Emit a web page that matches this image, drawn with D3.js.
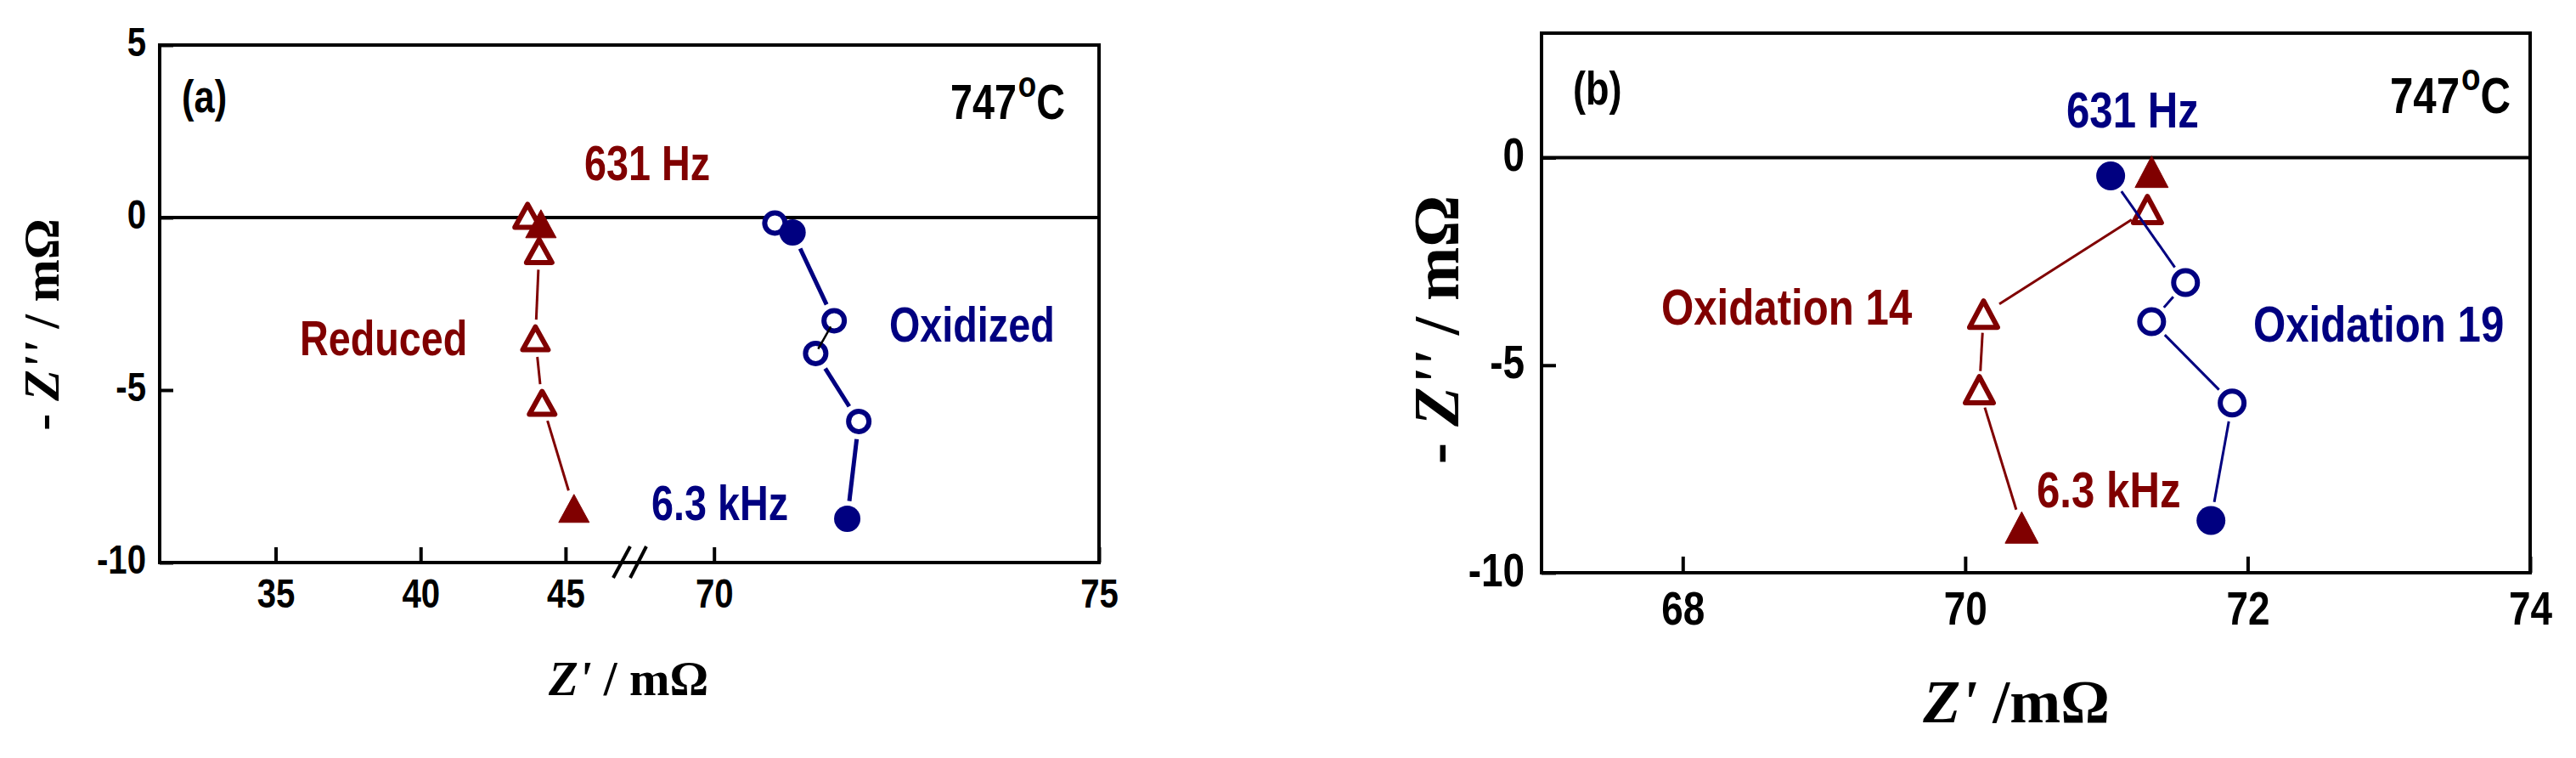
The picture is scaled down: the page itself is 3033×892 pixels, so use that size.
<!DOCTYPE html>
<html><head><meta charset="utf-8">
<script src="https://cdn.jsdelivr.net/npm/d3@7"></script>
<style>
html,body{margin:0;padding:0;background:#fff;}
svg{display:block;}
.lbl{font-family:"Liberation Sans Narrow","Arial Narrow","Liberation Sans",Arial,sans-serif;font-weight:bold;}
.ser{font-family:"Liberation Serif","Times New Roman",serif;font-weight:bold;}
</style></head><body>
<svg id="chart" width="3033" height="892"></svg>
<script>
// ---------- data (Z' in mOhm, -Z'' in mOhm) ----------
// Panel (a)
const aReducedRe  = [43.69, 44.15, 44.09, 43.96, 44.19, 45.29];
const aReducedIm  = [0.05, -0.18, -0.97, -3.50, -5.37, -8.43];
const aReducedEnd = [false, true, false, false, false, true];
const aOxidRe     = [70.79, 71.02, 71.56, 71.32, 71.88, 71.73];
const aOxidIm     = [-0.16, -0.43, -2.99, -3.94, -5.91, -8.73];
const aOxidEnd    = [false, true, false, false, false, true];
const aXDomain    = [31, 47.2, 68.9, 75];      // broken axis
const aXTicks     = [35, 40, 45, 70, 75];
const aYDomain    = [-10, 5];
const aYTicks     = [-10, -5, 0, 5];
// Panel (b)
const bOx14Re  = [71.32, 71.29, 70.13, 70.10, 70.40];
const bOx14Im  = [-0.34, -1.25, -3.77, -5.59, -8.91];
const bOx14End = [true, false, false, false, true];
const bOx19Re  = [71.03, 71.56, 71.32, 71.89, 71.74];
const bOx19Im  = [-0.44, -3.01, -3.95, -5.91, -8.74];
const bOx19End = [true, false, false, false, true];
const bXDomain = [67, 74];
const bXTicks  = [68, 70, 72, 74];
const bYDomain = [-10, 3];
const bYTicks  = [-10, -5, 0];

const RED = "#800000", BLUE = "#000080";
const NARROW = 0.82;   // horizontal condensation for the narrow bold sans face
const svg = d3.select("#chart");
svg.append("rect").attr("width", 3033).attr("height", 892).attr("fill", "#fff");

function tri(w, h) { return `M0,${-h/2}L${w/2},${h/2}L${-w/2},${h/2}Z`; }

function panel(o) {
  const g = svg.append("g");
  const [L, R] = [o.x.range()[0], o.x.range()[o.x.range().length - 1]];
  const [B, T] = o.y.range();
  // x axis
  const xa = g.append("g").attr("transform", `translate(0,${B})`)
    .call(d3.axisBottom(o.x).tickValues(o.xt).tickFormat(d => String(d))
      .tickSizeInner(-o.tick).tickSizeOuter(0).tickPadding(o.xpad));
  xa.select(".domain").remove();
  xa.selectAll(".tick line").attr("stroke", "#000").attr("stroke-width", 4);
  xa.selectAll("text").attr("class", "lbl").attr("font-size", o.tfs).attr("fill", "#000")
    .attr("transform", `scale(${NARROW},1)`);
  xa.attr("font-family", null).attr("font-size", null);
  // y axis
  const ya = g.append("g").attr("transform", `translate(${L},0)`)
    .call(d3.axisLeft(o.y).tickValues(o.yt).tickFormat(d => String(d))
      .tickSizeInner(-o.tick + 2).tickSizeOuter(0).tickPadding(o.ypad));
  ya.select(".domain").remove();
  ya.selectAll(".tick line").attr("stroke", "#000").attr("stroke-width", 4);
  ya.selectAll("text").attr("class", "lbl").attr("font-size", o.tfs).attr("fill", "#000")
    .attr("dy", o.ydy).attr("x", -o.ypad / NARROW).attr("transform", `scale(${NARROW},1)`);
  ya.attr("font-family", null).attr("font-size", null);
  // frame & zero line
  g.append("rect").attr("x", L).attr("y", T).attr("width", R - L).attr("height", B - T)
    .attr("fill", "none").attr("stroke", "#000").attr("stroke-width", 4);
  g.append("line").attr("x1", L).attr("x2", R).attr("y1", o.y(0)).attr("y2", o.y(0))
    .attr("stroke", "#000").attr("stroke-width", 4);
  return g;
}

function series(g, re, im, end, x, y, color, shape, s) {
  const pts = re.map((v, i) => ({ x: x(v), y: y(im[i]), f: end[i] }));
  const mk = g.append("g");
  const draw = (sel) => {
    if (shape === "circle") {
      sel.append("circle").attr("cx", d => d.x).attr("cy", d => d.y)
        .attr("r", d => d.f ? s.rf : s.r)
        .attr("fill", d => d.f ? color : "#fff")
        .attr("stroke", color).attr("stroke-width", d => d.f ? 0 : s.sw);
    } else {
      sel.append("path").attr("transform", d => `translate(${d.x},${d.y})`)
        .attr("d", d => d.f ? tri(s.tw + s.sw, s.th + s.sw) : tri(s.tw, s.th))
        .attr("fill", d => d.f ? color : "#fff")
        .attr("stroke", color).attr("stroke-width", d => d.f ? 1 : s.sw)
        .attr("stroke-linejoin", "round");
    }
  };
  mk.selectAll("g.o").data(pts.filter(p => !p.f)).enter().append("g").attr("class", "o").call(draw);
  mk.selectAll("g.f").data(pts.filter(p => p.f)).enter().append("g").attr("class", "f").call(draw);
  return pts;
}

function links(g, pts, color, lw, trim, skip = []) {
  for (let i = 0; i < pts.length - 1; i++) {
    if (skip.includes(i)) continue;
    const a = pts[i], b = pts[i + 1];
    const dx = b.x - a.x, dy = b.y - a.y, d = Math.hypot(dx, dy);
    if (d <= 2 * trim + 2) continue;
    const ux = dx / d, uy = dy / d;
    g.append("line").attr("x1", a.x + ux * trim).attr("y1", a.y + uy * trim)
      .attr("x2", b.x - ux * trim).attr("y2", b.y - uy * trim)
      .attr("stroke", color).attr("stroke-width", lw);
  }
}

function text(x, y, s, fs, color) {
  return svg.append("text").attr("class", "lbl")
    .attr("transform", `translate(${x},${y}) scale(${NARROW},1)`)
    .attr("font-size", fs).attr("fill", color).text(s);
}
function degText(x, y, fs) {
  const t = svg.append("text").attr("class", "lbl")
    .attr("transform", `translate(${x},${y}) scale(${NARROW},1)`)
    .attr("font-size", fs).attr("fill", "#000");
  t.append("tspan").text("747");
  t.append("tspan").attr("font-size", fs * 0.75).attr("dy", -fs * 0.45).attr("dx", fs * 0.04).text("o");
  t.append("tspan").attr("dy", fs * 0.45).text("C");
}
function serifLabel(x, y, fs, rot, parts) {
  const t = svg.append("text").attr("class", "ser").attr("font-size", fs).attr("fill", "#000")
    .attr("text-anchor", "middle")
    .attr("transform", `translate(${x},${y})` + (rot ? " rotate(-90)" : ""));
  parts.forEach(([s, it]) => t.append("tspan").attr("font-style", it ? "italic" : "normal").text(s));
}

// ---------- Panel (a) ----------
const xA = d3.scaleLinear().domain(aXDomain).range([188, 741, 741, 1294]);
const yA = d3.scaleLinear().domain(aYDomain).range([662, 53]);
const gA = panel({ x: xA, y: yA, xt: aXTicks, yt: aYTicks, tick: 18, tfs: 49, xpad: 18, ypad: 16, ydy: 12.6 });
// axis break marks
const bx = xA(aXDomain[1]);
gA.append("line").attr("x1", bx - 19).attr("y1", 680).attr("x2", bx + 1).attr("y2", 643).attr("stroke", "#000").attr("stroke-width", 4);
gA.append("line").attr("x1", bx + 1).attr("y1", 680).attr("x2", bx + 20).attr("y2", 643).attr("stroke", "#000").attr("stroke-width", 4);

const sA = { r: 12, rf: 15.5, sw: 6, tw: 30, th: 27 };
const pRed = series(gA, aReducedRe, aReducedIm, aReducedEnd, xA, yA, RED, "tri", sA);
const pBlu = series(gA, aOxidRe, aOxidIm, aOxidEnd, xA, yA, BLUE, "circle", sA);
links(gA, pRed, RED, 3, 22);
links(gA, pBlu, BLUE, 5, 21, [2]);
// thin black connector between the two middle open circles
(() => { const a = pBlu[2], b = pBlu[3]; const dx = b.x - a.x, dy = b.y - a.y, d = Math.hypot(dx, dy);
  gA.append("line").attr("x1", a.x + dx / d * 8).attr("y1", a.y + dy / d * 8)
    .attr("x2", b.x - dx / d * 6).attr("y2", b.y - dy / d * 6).attr("stroke", "#000").attr("stroke-width", 2.5); })();

text(214, 132, "(a)", 53, "#000");
degText(1119, 140, 57);
text(688, 212, "631 Hz", 57, RED);
text(353, 418, "Reduced", 57, RED);
text(1047, 402, "Oxidized", 57, BLUE);
text(767, 612, "6.3 kHz", 57, BLUE);
serifLabel(740, 818, 57, false, [["Z'", true], [" / m\u03A9", false]]);
serifLabel(69, 382, 60, true, [["- ", false], ["Z''", true], [" / m\u03A9", false]]);

// ---------- Panel (b) ----------
const xB = d3.scaleLinear().domain(bXDomain).range([1815, 2979]);
const yB = d3.scaleLinear().domain(bYDomain).range([674, 39]);
const gB = panel({ x: xB, y: yB, xt: bXTicks, yt: bYTicks, tick: 19, tfs: 56, xpad: 21, ypad: 20, ydy: 15 });
const sB = { r: 14, rf: 17, sw: 6, tw: 33, th: 31 };
const qRed = series(gB, bOx14Re, bOx14Im, bOx14End, xB, yB, RED, "tri", sB);
const qBlu = series(gB, bOx19Re, bOx19Im, bOx19End, xB, yB, BLUE, "circle", sB);
links(gB, qRed, RED, 3, 22);
links(gB, qBlu, BLUE, 3, 22);

text(1852, 123, "(b)", 55, "#000");
degText(2814, 133, 60);
text(2433, 150, "631 Hz", 60, BLUE);
text(2653, 402, "Oxidation 19", 60, BLUE);
text(1956, 382, "Oxidation 14", 60, RED);
text(2398, 597, "6.3 kHz", 60, RED);
serifLabel(2374, 850, 72, false, [["Z'", true], [" /m\u03A9", false]]);
serifLabel(1717, 388, 76, true, [["- ", false], ["Z''", true], [" / m\u03A9", false]]);
</script>
</body></html>
